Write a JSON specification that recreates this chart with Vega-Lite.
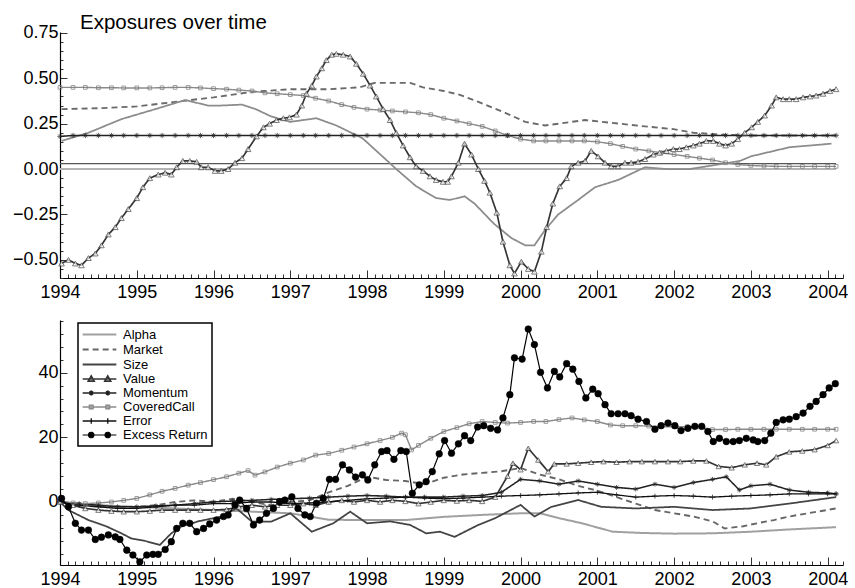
{
  "$schema": "https://vega.github.io/schema/vega-lite/v6.json",
  "background": "white",
  "padding": {"top": 13, "left": 0, "right": 0, "bottom": 0},
  "bounds": "flush",
  "spacing": 42,
  "config": {
    "view": {"stroke": null},
    "font": "Liberation Sans",
    "axis": {"labelFont": "Liberation Sans", "labelFontSize": 18, "labelColor": "#000", "domainColor": "#000", "domainWidth": 1.2, "tickColor": "#333", "tickWidth": 1, "grid": false, "labelOverlap": false, "labelBound": false, "labelFlush": false}
  },
  "resolve": {
    "scale": {"x": "independent", "y": "independent", "color": "independent", "strokeDash": "independent", "strokeWidth": "independent"},
    "legend": {"color": "independent"}
  },
  "datasets": {
    "top": [
      {"s":"Alpha","t":1994.0,"v":0.0},{"s":"Alpha","t":2004.11,"v":0.0},
      {"s":"Error","t":1994.0,"v":0.03},{"s":"Error","t":2004.11,"v":0.03},
      {"s":"Market","t":1994.02,"v":0.33},{"s":"Market","t":1994.5,"v":0.335},{"s":"Market","t":1995.0,"v":0.345},{"s":"Market","t":1995.5,"v":0.37},{"s":"Market","t":1996.0,"v":0.395},{"s":"Market","t":1996.5,"v":0.425},{"s":"Market","t":1997.0,"v":0.44},{"s":"Market","t":1997.5,"v":0.44},{"s":"Market","t":1997.9,"v":0.45},{"s":"Market","t":1998.1,"v":0.475},{"s":"Market","t":1998.56,"v":0.475},{"s":"Market","t":1998.73,"v":0.45},{"s":"Market","t":1999.0,"v":0.43},{"s":"Market","t":1999.2,"v":0.41},{"s":"Market","t":1999.45,"v":0.37},{"s":"Market","t":1999.8,"v":0.31},{"s":"Market","t":2000.06,"v":0.26},{"s":"Market","t":2000.32,"v":0.24},{"s":"Market","t":2000.84,"v":0.27},{"s":"Market","t":2001.18,"v":0.255},{"s":"Market","t":2001.62,"v":0.235},{"s":"Market","t":2001.99,"v":0.22},{"s":"Market","t":2002.25,"v":0.2},{"s":"Market","t":2002.6,"v":0.19},{"s":"Market","t":2003.0,"v":0.185},{"s":"Market","t":2004.11,"v":0.185},
      {"s":"Size","t":1994.02,"v":0.155},{"s":"Size","t":1994.37,"v":0.2},{"s":"Size","t":1994.8,"v":0.275},{"s":"Size","t":1995.24,"v":0.33},{"s":"Size","t":1995.63,"v":0.38},{"s":"Size","t":1995.93,"v":0.35},{"s":"Size","t":1996.1,"v":0.35},{"s":"Size","t":1996.37,"v":0.355},{"s":"Size","t":1996.55,"v":0.33},{"s":"Size","t":1996.75,"v":0.29},{"s":"Size","t":1997.0,"v":0.26},{"s":"Size","t":1997.34,"v":0.28},{"s":"Size","t":1997.6,"v":0.24},{"s":"Size","t":1997.94,"v":0.17},{"s":"Size","t":1998.2,"v":0.07},{"s":"Size","t":1998.38,"v":0.0},{"s":"Size","t":1998.64,"v":-0.095},{"s":"Size","t":1998.9,"v":-0.16},{"s":"Size","t":1999.08,"v":-0.17},{"s":"Size","t":1999.27,"v":-0.15},{"s":"Size","t":1999.4,"v":-0.19},{"s":"Size","t":1999.65,"v":-0.3},{"s":"Size","t":1999.88,"v":-0.38},{"s":"Size","t":2000.06,"v":-0.42},{"s":"Size","t":2000.18,"v":-0.42},{"s":"Size","t":2000.32,"v":-0.335},{"s":"Size","t":2000.49,"v":-0.25},{"s":"Size","t":2000.75,"v":-0.17},{"s":"Size","t":2000.97,"v":-0.1},{"s":"Size","t":2001.27,"v":-0.06},{"s":"Size","t":2001.62,"v":0.01},{"s":"Size","t":2001.9,"v":0.0},{"s":"Size","t":2002.2,"v":0.0},{"s":"Size","t":2002.5,"v":0.02},{"s":"Size","t":2002.86,"v":0.045},{"s":"Size","t":2003.0,"v":0.07},{"s":"Size","t":2003.5,"v":0.12},{"s":"Size","t":2004.05,"v":0.14},
      {"s":"Value","t":1994.02,"v":-0.52},{"s":"Value","t":1994.11,"v":-0.5},{"s":"Value","t":1994.2,"v":-0.52},{"s":"Value","t":1994.28,"v":-0.53},{"s":"Value","t":1994.37,"v":-0.49},{"s":"Value","t":1994.46,"v":-0.465},{"s":"Value","t":1994.54,"v":-0.42},{"s":"Value","t":1994.63,"v":-0.36},{"s":"Value","t":1994.72,"v":-0.32},{"s":"Value","t":1994.8,"v":-0.27},{"s":"Value","t":1994.89,"v":-0.22},{"s":"Value","t":1995.0,"v":-0.16},{"s":"Value","t":1995.08,"v":-0.1},{"s":"Value","t":1995.17,"v":-0.05},{"s":"Value","t":1995.28,"v":-0.03},{"s":"Value","t":1995.37,"v":-0.02},{"s":"Value","t":1995.45,"v":-0.03},{"s":"Value","t":1995.52,"v":0.01},{"s":"Value","t":1995.6,"v":0.045},{"s":"Value","t":1995.69,"v":0.045},{"s":"Value","t":1995.78,"v":0.04},{"s":"Value","t":1995.84,"v":0.01},{"s":"Value","t":1995.93,"v":0.01},{"s":"Value","t":1996.02,"v":-0.01},{"s":"Value","t":1996.1,"v":-0.01},{"s":"Value","t":1996.19,"v":0.0},{"s":"Value","t":1996.28,"v":0.035},{"s":"Value","t":1996.37,"v":0.06},{"s":"Value","t":1996.45,"v":0.11},{"s":"Value","t":1996.56,"v":0.18},{"s":"Value","t":1996.65,"v":0.23},{"s":"Value","t":1996.73,"v":0.25},{"s":"Value","t":1996.82,"v":0.27},{"s":"Value","t":1996.91,"v":0.28},{"s":"Value","t":1996.99,"v":0.285},{"s":"Value","t":1997.08,"v":0.3},{"s":"Value","t":1997.15,"v":0.35},{"s":"Value","t":1997.21,"v":0.415},{"s":"Value","t":1997.28,"v":0.46},{"s":"Value","t":1997.34,"v":0.51},{"s":"Value","t":1997.41,"v":0.555},{"s":"Value","t":1997.47,"v":0.6},{"s":"Value","t":1997.54,"v":0.63},{"s":"Value","t":1997.6,"v":0.635},{"s":"Value","t":1997.69,"v":0.63},{"s":"Value","t":1997.78,"v":0.62},{"s":"Value","t":1997.86,"v":0.58},{"s":"Value","t":1997.95,"v":0.525},{"s":"Value","t":1998.04,"v":0.46},{"s":"Value","t":1998.12,"v":0.4},{"s":"Value","t":1998.21,"v":0.33},{"s":"Value","t":1998.3,"v":0.27},{"s":"Value","t":1998.38,"v":0.2},{"s":"Value","t":1998.47,"v":0.13},{"s":"Value","t":1998.56,"v":0.065},{"s":"Value","t":1998.64,"v":0.015},{"s":"Value","t":1998.73,"v":-0.01},{"s":"Value","t":1998.82,"v":-0.04},{"s":"Value","t":1998.9,"v":-0.06},{"s":"Value","t":1998.99,"v":-0.07},{"s":"Value","t":1999.05,"v":-0.07},{"s":"Value","t":1999.1,"v":-0.04},{"s":"Value","t":1999.19,"v":0.035},{"s":"Value","t":1999.27,"v":0.14},{"s":"Value","t":1999.36,"v":0.08},{"s":"Value","t":1999.45,"v":0.0},{"s":"Value","t":1999.53,"v":-0.065},{"s":"Value","t":1999.6,"v":-0.13},{"s":"Value","t":1999.69,"v":-0.24},{"s":"Value","t":1999.77,"v":-0.4},{"s":"Value","t":1999.86,"v":-0.53},{"s":"Value","t":1999.92,"v":-0.575},{"s":"Value","t":2000.01,"v":-0.51},{"s":"Value","t":2000.1,"v":-0.55},{"s":"Value","t":2000.18,"v":-0.565},{"s":"Value","t":2000.27,"v":-0.455},{"s":"Value","t":2000.34,"v":-0.32},{"s":"Value","t":2000.42,"v":-0.19},{"s":"Value","t":2000.51,"v":-0.095},{"s":"Value","t":2000.6,"v":-0.05},{"s":"Value","t":2000.66,"v":0.015},{"s":"Value","t":2000.75,"v":0.035},{"s":"Value","t":2000.84,"v":0.045},{"s":"Value","t":2000.92,"v":0.1},{"s":"Value","t":2001.01,"v":0.07},{"s":"Value","t":2001.1,"v":0.035},{"s":"Value","t":2001.18,"v":0.015},{"s":"Value","t":2001.27,"v":0.015},{"s":"Value","t":2001.36,"v":0.035},{"s":"Value","t":2001.44,"v":0.035},{"s":"Value","t":2001.53,"v":0.04},{"s":"Value","t":2001.62,"v":0.055},{"s":"Value","t":2001.73,"v":0.08},{"s":"Value","t":2001.81,"v":0.09},{"s":"Value","t":2001.9,"v":0.1},{"s":"Value","t":2001.99,"v":0.11},{"s":"Value","t":2002.07,"v":0.11},{"s":"Value","t":2002.16,"v":0.12},{"s":"Value","t":2002.25,"v":0.13},{"s":"Value","t":2002.33,"v":0.14},{"s":"Value","t":2002.42,"v":0.155},{"s":"Value","t":2002.51,"v":0.155},{"s":"Value","t":2002.59,"v":0.14},{"s":"Value","t":2002.67,"v":0.13},{"s":"Value","t":2002.75,"v":0.14},{"s":"Value","t":2002.83,"v":0.165},{"s":"Value","t":2002.92,"v":0.2},{"s":"Value","t":2003.01,"v":0.23},{"s":"Value","t":2003.09,"v":0.26},{"s":"Value","t":2003.18,"v":0.295},{"s":"Value","t":2003.27,"v":0.35},{"s":"Value","t":2003.33,"v":0.395},{"s":"Value","t":2003.42,"v":0.385},{"s":"Value","t":2003.5,"v":0.385},{"s":"Value","t":2003.59,"v":0.385},{"s":"Value","t":2003.68,"v":0.395},{"s":"Value","t":2003.77,"v":0.4},{"s":"Value","t":2003.85,"v":0.405},{"s":"Value","t":2003.94,"v":0.415},{"s":"Value","t":2004.03,"v":0.43},{"s":"Value","t":2004.11,"v":0.44},
      {"s":"CoveredCall","t":1994.0,"v":0.45},{"s":"CoveredCall","t":1994.17,"v":0.45},{"s":"CoveredCall","t":1994.33,"v":0.45},{"s":"CoveredCall","t":1994.5,"v":0.448},{"s":"CoveredCall","t":1994.67,"v":0.448},{"s":"CoveredCall","t":1994.83,"v":0.447},{"s":"CoveredCall","t":1995.0,"v":0.447},{"s":"CoveredCall","t":1995.17,"v":0.447},{"s":"CoveredCall","t":1995.33,"v":0.448},{"s":"CoveredCall","t":1995.5,"v":0.45},{"s":"CoveredCall","t":1995.67,"v":0.45},{"s":"CoveredCall","t":1995.83,"v":0.447},{"s":"CoveredCall","t":1996.0,"v":0.443},{"s":"CoveredCall","t":1996.17,"v":0.44},{"s":"CoveredCall","t":1996.33,"v":0.435},{"s":"CoveredCall","t":1996.5,"v":0.43},{"s":"CoveredCall","t":1996.67,"v":0.42},{"s":"CoveredCall","t":1996.83,"v":0.415},{"s":"CoveredCall","t":1997.0,"v":0.41},{"s":"CoveredCall","t":1997.17,"v":0.405},{"s":"CoveredCall","t":1997.33,"v":0.39},{"s":"CoveredCall","t":1997.5,"v":0.375},{"s":"CoveredCall","t":1997.67,"v":0.355},{"s":"CoveredCall","t":1997.83,"v":0.34},{"s":"CoveredCall","t":1998.0,"v":0.33},{"s":"CoveredCall","t":1998.17,"v":0.325},{"s":"CoveredCall","t":1998.33,"v":0.32},{"s":"CoveredCall","t":1998.5,"v":0.315},{"s":"CoveredCall","t":1998.67,"v":0.31},{"s":"CoveredCall","t":1998.83,"v":0.3},{"s":"CoveredCall","t":1999.0,"v":0.28},{"s":"CoveredCall","t":1999.17,"v":0.265},{"s":"CoveredCall","t":1999.33,"v":0.25},{"s":"CoveredCall","t":1999.5,"v":0.235},{"s":"CoveredCall","t":1999.67,"v":0.21},{"s":"CoveredCall","t":1999.83,"v":0.185},{"s":"CoveredCall","t":2000.0,"v":0.165},{"s":"CoveredCall","t":2000.17,"v":0.155},{"s":"CoveredCall","t":2000.33,"v":0.155},{"s":"CoveredCall","t":2000.5,"v":0.155},{"s":"CoveredCall","t":2000.67,"v":0.155},{"s":"CoveredCall","t":2000.83,"v":0.155},{"s":"CoveredCall","t":2001.0,"v":0.15},{"s":"CoveredCall","t":2001.17,"v":0.14},{"s":"CoveredCall","t":2001.33,"v":0.125},{"s":"CoveredCall","t":2001.5,"v":0.11},{"s":"CoveredCall","t":2001.67,"v":0.1},{"s":"CoveredCall","t":2001.83,"v":0.09},{"s":"CoveredCall","t":2002.0,"v":0.08},{"s":"CoveredCall","t":2002.17,"v":0.07},{"s":"CoveredCall","t":2002.33,"v":0.06},{"s":"CoveredCall","t":2002.5,"v":0.05},{"s":"CoveredCall","t":2002.67,"v":0.035},{"s":"CoveredCall","t":2002.83,"v":0.025},{"s":"CoveredCall","t":2003.0,"v":0.02},{"s":"CoveredCall","t":2003.17,"v":0.017},{"s":"CoveredCall","t":2003.33,"v":0.015},{"s":"CoveredCall","t":2003.5,"v":0.015},{"s":"CoveredCall","t":2003.67,"v":0.015},{"s":"CoveredCall","t":2003.83,"v":0.015},{"s":"CoveredCall","t":2004.0,"v":0.015},{"s":"CoveredCall","t":2004.11,"v":0.015},
      {"s":"Momentum","t":1994.0,"v":0.18},{"s":"Momentum","t":1994.17,"v":0.185},{"s":"Momentum","t":1994.33,"v":0.185},{"s":"Momentum","t":1994.5,"v":0.185},{"s":"Momentum","t":1994.67,"v":0.185},{"s":"Momentum","t":1994.83,"v":0.185},{"s":"Momentum","t":1995.0,"v":0.185},{"s":"Momentum","t":1995.17,"v":0.185},{"s":"Momentum","t":1995.33,"v":0.185},{"s":"Momentum","t":1995.5,"v":0.185},{"s":"Momentum","t":1995.67,"v":0.185},{"s":"Momentum","t":1995.83,"v":0.185},{"s":"Momentum","t":1996.0,"v":0.185},{"s":"Momentum","t":1996.17,"v":0.185},{"s":"Momentum","t":1996.33,"v":0.185},{"s":"Momentum","t":1996.5,"v":0.185},{"s":"Momentum","t":1996.67,"v":0.185},{"s":"Momentum","t":1996.83,"v":0.185},{"s":"Momentum","t":1997.0,"v":0.185},{"s":"Momentum","t":1997.17,"v":0.185},{"s":"Momentum","t":1997.33,"v":0.185},{"s":"Momentum","t":1997.5,"v":0.185},{"s":"Momentum","t":1997.67,"v":0.185},{"s":"Momentum","t":1997.83,"v":0.185},{"s":"Momentum","t":1998.0,"v":0.185},{"s":"Momentum","t":1998.17,"v":0.185},{"s":"Momentum","t":1998.33,"v":0.185},{"s":"Momentum","t":1998.5,"v":0.185},{"s":"Momentum","t":1998.67,"v":0.185},{"s":"Momentum","t":1998.83,"v":0.185},{"s":"Momentum","t":1999.0,"v":0.185},{"s":"Momentum","t":1999.17,"v":0.185},{"s":"Momentum","t":1999.33,"v":0.185},{"s":"Momentum","t":1999.5,"v":0.185},{"s":"Momentum","t":1999.67,"v":0.185},{"s":"Momentum","t":1999.83,"v":0.185},{"s":"Momentum","t":2000.0,"v":0.185},{"s":"Momentum","t":2000.17,"v":0.185},{"s":"Momentum","t":2000.33,"v":0.185},{"s":"Momentum","t":2000.5,"v":0.185},{"s":"Momentum","t":2000.67,"v":0.185},{"s":"Momentum","t":2000.83,"v":0.185},{"s":"Momentum","t":2001.0,"v":0.185},{"s":"Momentum","t":2001.17,"v":0.185},{"s":"Momentum","t":2001.33,"v":0.185},{"s":"Momentum","t":2001.5,"v":0.185},{"s":"Momentum","t":2001.67,"v":0.185},{"s":"Momentum","t":2001.83,"v":0.185},{"s":"Momentum","t":2002.0,"v":0.185},{"s":"Momentum","t":2002.17,"v":0.185},{"s":"Momentum","t":2002.33,"v":0.185},{"s":"Momentum","t":2002.5,"v":0.185},{"s":"Momentum","t":2002.67,"v":0.185},{"s":"Momentum","t":2002.83,"v":0.185},{"s":"Momentum","t":2003.0,"v":0.185},{"s":"Momentum","t":2003.17,"v":0.185},{"s":"Momentum","t":2003.33,"v":0.185},{"s":"Momentum","t":2003.5,"v":0.185},{"s":"Momentum","t":2003.67,"v":0.185},{"s":"Momentum","t":2003.83,"v":0.185},{"s":"Momentum","t":2004.0,"v":0.185},{"s":"Momentum","t":2004.11,"v":0.185}
    ],
    "bottom": [
      {"s":"Alpha","t":1994.0,"v":0},{"s":"Alpha","t":1994.5,"v":-1},{"s":"Alpha","t":1995.0,"v":-1.5},{"s":"Alpha","t":1995.5,"v":-2},{"s":"Alpha","t":1996.0,"v":-2.5},{"s":"Alpha","t":1996.5,"v":-3},{"s":"Alpha","t":1997.0,"v":-3.5},{"s":"Alpha","t":1997.5,"v":-5.5},{"s":"Alpha","t":1998.0,"v":-5.6},{"s":"Alpha","t":1998.5,"v":-5.6},{"s":"Alpha","t":1999.0,"v":-4.6},{"s":"Alpha","t":1999.5,"v":-4},{"s":"Alpha","t":2000.0,"v":-3.5},{"s":"Alpha","t":2000.25,"v":-3.5},{"s":"Alpha","t":2000.5,"v":-5},{"s":"Alpha","t":2000.8,"v":-6.6},{"s":"Alpha","t":2001.2,"v":-9.2},{"s":"Alpha","t":2001.6,"v":-9.6},{"s":"Alpha","t":2002.0,"v":-9.8},{"s":"Alpha","t":2002.5,"v":-9.7},{"s":"Alpha","t":2003.0,"v":-9.2},{"s":"Alpha","t":2003.5,"v":-8.5},{"s":"Alpha","t":2004.11,"v":-7.8},
      {"s":"Market","t":1994.0,"v":0},{"s":"Market","t":1994.25,"v":-1},{"s":"Market","t":1994.5,"v":-1.5},{"s":"Market","t":1994.75,"v":-1.5},{"s":"Market","t":1995.0,"v":-1.5},{"s":"Market","t":1995.25,"v":-1},{"s":"Market","t":1995.5,"v":0},{"s":"Market","t":1995.75,"v":0.5},{"s":"Market","t":1996.0,"v":0},{"s":"Market","t":1996.25,"v":1},{"s":"Market","t":1996.5,"v":0},{"s":"Market","t":1996.75,"v":-1},{"s":"Market","t":1997.0,"v":0},{"s":"Market","t":1997.25,"v":0.5},{"s":"Market","t":1997.5,"v":3},{"s":"Market","t":1997.75,"v":5},{"s":"Market","t":1998.0,"v":7.8},{"s":"Market","t":1998.25,"v":6.8},{"s":"Market","t":1998.5,"v":6.5},{"s":"Market","t":1998.75,"v":5.5},{"s":"Market","t":1999.0,"v":7.5},{"s":"Market","t":1999.25,"v":8.5},{"s":"Market","t":1999.5,"v":9},{"s":"Market","t":1999.75,"v":9.5},{"s":"Market","t":2000.0,"v":10.5},{"s":"Market","t":2000.25,"v":8.5},{"s":"Market","t":2000.5,"v":7},{"s":"Market","t":2000.75,"v":5},{"s":"Market","t":2001.0,"v":3.5},{"s":"Market","t":2001.25,"v":1.5},{"s":"Market","t":2001.5,"v":-0.5},{"s":"Market","t":2001.75,"v":-2.5},{"s":"Market","t":2002.0,"v":-3.5},{"s":"Market","t":2002.25,"v":-4.5},{"s":"Market","t":2002.5,"v":-6},{"s":"Market","t":2002.66,"v":-8.2},{"s":"Market","t":2002.9,"v":-7.5},{"s":"Market","t":2003.1,"v":-6.5},{"s":"Market","t":2003.3,"v":-5.6},{"s":"Market","t":2003.5,"v":-4.5},{"s":"Market","t":2003.74,"v":-3.5},{"s":"Market","t":2004.11,"v":-2},
      {"s":"Size","t":1994.0,"v":0},{"s":"Size","t":1994.11,"v":-2.5},{"s":"Size","t":1994.37,"v":-5.6},{"s":"Size","t":1994.6,"v":-7.5},{"s":"Size","t":1994.8,"v":-9.7},{"s":"Size","t":1994.93,"v":-11.3},{"s":"Size","t":1995.1,"v":-12},{"s":"Size","t":1995.3,"v":-13.3},{"s":"Size","t":1995.45,"v":-9.7},{"s":"Size","t":1995.58,"v":-7.6},{"s":"Size","t":1995.8,"v":-6},{"s":"Size","t":1996.1,"v":-4.5},{"s":"Size","t":1996.3,"v":-2},{"s":"Size","t":1996.5,"v":-6.1},{"s":"Size","t":1996.75,"v":-6.1},{"s":"Size","t":1997.0,"v":-3.5},{"s":"Size","t":1997.28,"v":-9.2},{"s":"Size","t":1997.56,"v":-6.6},{"s":"Size","t":1997.78,"v":-3},{"s":"Size","t":1998.0,"v":-6.6},{"s":"Size","t":1998.3,"v":-6},{"s":"Size","t":1998.56,"v":-7.1},{"s":"Size","t":1998.77,"v":-9.7},{"s":"Size","t":1998.95,"v":-9.2},{"s":"Size","t":1999.14,"v":-10.8},{"s":"Size","t":1999.45,"v":-7.1},{"s":"Size","t":1999.67,"v":-5},{"s":"Size","t":2000.0,"v":-0.9},{"s":"Size","t":2000.18,"v":-4.5},{"s":"Size","t":2000.4,"v":-1.5},{"s":"Size","t":2000.75,"v":0.6},{"s":"Size","t":2001.05,"v":-1.5},{"s":"Size","t":2001.5,"v":-2},{"s":"Size","t":2002.0,"v":-1.5},{"s":"Size","t":2002.5,"v":-2.5},{"s":"Size","t":2003.0,"v":-2},{"s":"Size","t":2003.5,"v":-0.5},{"s":"Size","t":2004.11,"v":1.5},
      {"s":"Value","t":1994.0,"v":0},{"s":"Value","t":1994.17,"v":-1},{"s":"Value","t":1994.33,"v":-2},{"s":"Value","t":1994.5,"v":-2.5},{"s":"Value","t":1994.67,"v":-2.8},{"s":"Value","t":1994.83,"v":-3},{"s":"Value","t":1995.0,"v":-3},{"s":"Value","t":1995.17,"v":-2.8},{"s":"Value","t":1995.33,"v":-2.5},{"s":"Value","t":1995.5,"v":-2.5},{"s":"Value","t":1995.67,"v":-2.5},{"s":"Value","t":1995.83,"v":-2.5},{"s":"Value","t":1996.0,"v":-2.5},{"s":"Value","t":1996.17,"v":-2.3},{"s":"Value","t":1996.33,"v":-1.5},{"s":"Value","t":1996.5,"v":-1},{"s":"Value","t":1996.67,"v":-1.5},{"s":"Value","t":1996.83,"v":-1},{"s":"Value","t":1997.0,"v":-1},{"s":"Value","t":1997.17,"v":-0.5},{"s":"Value","t":1997.33,"v":-1},{"s":"Value","t":1997.5,"v":0},{"s":"Value","t":1997.67,"v":0.5},{"s":"Value","t":1997.83,"v":0},{"s":"Value","t":1998.0,"v":0.5},{"s":"Value","t":1998.17,"v":0},{"s":"Value","t":1998.33,"v":0.5},{"s":"Value","t":1998.5,"v":0.2},{"s":"Value","t":1998.67,"v":-0.5},{"s":"Value","t":1998.83,"v":0},{"s":"Value","t":1999.0,"v":0.5},{"s":"Value","t":1999.17,"v":0.3},{"s":"Value","t":1999.33,"v":0.5},{"s":"Value","t":1999.5,"v":0.2},{"s":"Value","t":1999.67,"v":1.5},{"s":"Value","t":1999.83,"v":8},{"s":"Value","t":1999.9,"v":12},{"s":"Value","t":2000.0,"v":10},{"s":"Value","t":2000.1,"v":16.6},{"s":"Value","t":2000.23,"v":13},{"s":"Value","t":2000.36,"v":9.4},{"s":"Value","t":2000.44,"v":11.8},{"s":"Value","t":2000.6,"v":11.8},{"s":"Value","t":2000.75,"v":12},{"s":"Value","t":2000.92,"v":12.3},{"s":"Value","t":2001.08,"v":12.5},{"s":"Value","t":2001.25,"v":12.3},{"s":"Value","t":2001.42,"v":12.5},{"s":"Value","t":2001.58,"v":12.5},{"s":"Value","t":2001.75,"v":12.5},{"s":"Value","t":2001.92,"v":12.5},{"s":"Value","t":2002.08,"v":12.5},{"s":"Value","t":2002.25,"v":12.7},{"s":"Value","t":2002.42,"v":12.7},{"s":"Value","t":2002.58,"v":11},{"s":"Value","t":2002.75,"v":10.6},{"s":"Value","t":2002.92,"v":11.5},{"s":"Value","t":2003.08,"v":12},{"s":"Value","t":2003.2,"v":11.5},{"s":"Value","t":2003.33,"v":14},{"s":"Value","t":2003.5,"v":15.5},{"s":"Value","t":2003.67,"v":15.8},{"s":"Value","t":2003.83,"v":16.2},{"s":"Value","t":2004.0,"v":17.5},{"s":"Value","t":2004.11,"v":19},
      {"s":"Momentum","t":1994.0,"v":0},{"s":"Momentum","t":1994.25,"v":-0.5},{"s":"Momentum","t":1994.5,"v":-1},{"s":"Momentum","t":1994.75,"v":-1.5},{"s":"Momentum","t":1995.0,"v":-1.5},{"s":"Momentum","t":1995.25,"v":-1.2},{"s":"Momentum","t":1995.5,"v":-1},{"s":"Momentum","t":1995.75,"v":-0.5},{"s":"Momentum","t":1996.0,"v":0},{"s":"Momentum","t":1996.25,"v":0.3},{"s":"Momentum","t":1996.5,"v":0.5},{"s":"Momentum","t":1996.75,"v":0.8},{"s":"Momentum","t":1997.0,"v":1},{"s":"Momentum","t":1997.25,"v":1.2},{"s":"Momentum","t":1997.5,"v":1.5},{"s":"Momentum","t":1997.75,"v":1.8},{"s":"Momentum","t":1998.0,"v":2},{"s":"Momentum","t":1998.25,"v":1.8},{"s":"Momentum","t":1998.5,"v":1.5},{"s":"Momentum","t":1998.75,"v":1.5},{"s":"Momentum","t":1999.0,"v":1.5},{"s":"Momentum","t":1999.25,"v":1.8},{"s":"Momentum","t":1999.5,"v":2},{"s":"Momentum","t":1999.75,"v":3},{"s":"Momentum","t":2000.0,"v":7},{"s":"Momentum","t":2000.25,"v":6.5},{"s":"Momentum","t":2000.5,"v":5.5},{"s":"Momentum","t":2000.75,"v":6.5},{"s":"Momentum","t":2001.0,"v":5.5},{"s":"Momentum","t":2001.25,"v":4.5},{"s":"Momentum","t":2001.5,"v":4},{"s":"Momentum","t":2001.75,"v":5.5},{"s":"Momentum","t":2002.0,"v":4.5},{"s":"Momentum","t":2002.25,"v":6},{"s":"Momentum","t":2002.5,"v":7},{"s":"Momentum","t":2002.68,"v":7.8},{"s":"Momentum","t":2002.85,"v":3.7},{"s":"Momentum","t":2003.0,"v":5},{"s":"Momentum","t":2003.25,"v":5.5},{"s":"Momentum","t":2003.5,"v":3.7},{"s":"Momentum","t":2003.75,"v":3},{"s":"Momentum","t":2004.0,"v":2.8},{"s":"Momentum","t":2004.11,"v":2.5},
      {"s":"CoveredCall","t":1994.0,"v":0},{"s":"CoveredCall","t":1994.17,"v":-0.3},{"s":"CoveredCall","t":1994.33,"v":-0.5},{"s":"CoveredCall","t":1994.5,"v":-0.3},{"s":"CoveredCall","t":1994.67,"v":0},{"s":"CoveredCall","t":1994.83,"v":0.5},{"s":"CoveredCall","t":1995.0,"v":1.1},{"s":"CoveredCall","t":1995.17,"v":2.2},{"s":"CoveredCall","t":1995.33,"v":3.3},{"s":"CoveredCall","t":1995.5,"v":4.2},{"s":"CoveredCall","t":1995.67,"v":5.2},{"s":"CoveredCall","t":1995.83,"v":6},{"s":"CoveredCall","t":1996.0,"v":6.9},{"s":"CoveredCall","t":1996.17,"v":7.8},{"s":"CoveredCall","t":1996.33,"v":8.9},{"s":"CoveredCall","t":1996.45,"v":9.7},{"s":"CoveredCall","t":1996.54,"v":8.3},{"s":"CoveredCall","t":1996.67,"v":9.3},{"s":"CoveredCall","t":1996.83,"v":10.8},{"s":"CoveredCall","t":1997.0,"v":12},{"s":"CoveredCall","t":1997.17,"v":13},{"s":"CoveredCall","t":1997.33,"v":14.5},{"s":"CoveredCall","t":1997.5,"v":15},{"s":"CoveredCall","t":1997.67,"v":16},{"s":"CoveredCall","t":1997.83,"v":17},{"s":"CoveredCall","t":1998.0,"v":18},{"s":"CoveredCall","t":1998.17,"v":19},{"s":"CoveredCall","t":1998.33,"v":20},{"s":"CoveredCall","t":1998.45,"v":21.3},{"s":"CoveredCall","t":1998.5,"v":20.8},{"s":"CoveredCall","t":1998.58,"v":16.1},{"s":"CoveredCall","t":1998.67,"v":17.5},{"s":"CoveredCall","t":1998.83,"v":19.7},{"s":"CoveredCall","t":1999.0,"v":21.8},{"s":"CoveredCall","t":1999.17,"v":23},{"s":"CoveredCall","t":1999.33,"v":24.2},{"s":"CoveredCall","t":1999.5,"v":24.9},{"s":"CoveredCall","t":1999.67,"v":24.6},{"s":"CoveredCall","t":1999.83,"v":24.4},{"s":"CoveredCall","t":2000.0,"v":24.6},{"s":"CoveredCall","t":2000.17,"v":24.9},{"s":"CoveredCall","t":2000.33,"v":24.9},{"s":"CoveredCall","t":2000.5,"v":25.5},{"s":"CoveredCall","t":2000.67,"v":26},{"s":"CoveredCall","t":2000.83,"v":25.4},{"s":"CoveredCall","t":2001.0,"v":24.9},{"s":"CoveredCall","t":2001.17,"v":23.8},{"s":"CoveredCall","t":2001.33,"v":23.6},{"s":"CoveredCall","t":2001.5,"v":23.6},{"s":"CoveredCall","t":2001.67,"v":23.5},{"s":"CoveredCall","t":2001.83,"v":23.3},{"s":"CoveredCall","t":2002.0,"v":23.3},{"s":"CoveredCall","t":2002.17,"v":23.3},{"s":"CoveredCall","t":2002.33,"v":23.2},{"s":"CoveredCall","t":2002.5,"v":22.4},{"s":"CoveredCall","t":2002.67,"v":22.4},{"s":"CoveredCall","t":2002.83,"v":22.5},{"s":"CoveredCall","t":2003.0,"v":22.5},{"s":"CoveredCall","t":2003.17,"v":22.5},{"s":"CoveredCall","t":2003.33,"v":22.5},{"s":"CoveredCall","t":2003.5,"v":22.5},{"s":"CoveredCall","t":2003.67,"v":22.5},{"s":"CoveredCall","t":2003.83,"v":22.5},{"s":"CoveredCall","t":2004.0,"v":22.5},{"s":"CoveredCall","t":2004.11,"v":22.5},
      {"s":"Error","t":1994.0,"v":0},{"s":"Error","t":1994.25,"v":-1},{"s":"Error","t":1994.5,"v":-1.5},{"s":"Error","t":1994.75,"v":-2},{"s":"Error","t":1995.0,"v":-2},{"s":"Error","t":1995.25,"v":-1.5},{"s":"Error","t":1995.5,"v":-1},{"s":"Error","t":1995.75,"v":-1},{"s":"Error","t":1996.0,"v":-0.5},{"s":"Error","t":1996.25,"v":-0.5},{"s":"Error","t":1996.5,"v":0},{"s":"Error","t":1996.75,"v":0},{"s":"Error","t":1997.0,"v":-0.5},{"s":"Error","t":1997.25,"v":-0.3},{"s":"Error","t":1997.5,"v":0},{"s":"Error","t":1997.75,"v":0.5},{"s":"Error","t":1998.0,"v":1},{"s":"Error","t":1998.25,"v":1.2},{"s":"Error","t":1998.5,"v":1.5},{"s":"Error","t":1998.75,"v":1.2},{"s":"Error","t":1999.0,"v":1},{"s":"Error","t":1999.25,"v":1.2},{"s":"Error","t":1999.5,"v":1.5},{"s":"Error","t":1999.75,"v":1.8},{"s":"Error","t":2000.0,"v":2},{"s":"Error","t":2000.25,"v":2.2},{"s":"Error","t":2000.5,"v":2.5},{"s":"Error","t":2000.75,"v":2.8},{"s":"Error","t":2001.0,"v":3},{"s":"Error","t":2001.25,"v":2.2},{"s":"Error","t":2001.5,"v":1.5},{"s":"Error","t":2001.75,"v":1.8},{"s":"Error","t":2002.0,"v":2},{"s":"Error","t":2002.25,"v":1.8},{"s":"Error","t":2002.5,"v":1.5},{"s":"Error","t":2002.75,"v":1.8},{"s":"Error","t":2003.0,"v":2},{"s":"Error","t":2003.25,"v":2.2},{"s":"Error","t":2003.5,"v":2.5},{"s":"Error","t":2003.75,"v":2.5},{"s":"Error","t":2004.0,"v":2.5},{"s":"Error","t":2004.11,"v":2.5},
      {"s":"Excess Return","t":1994.02,"v":1.1},{"s":"Excess Return","t":1994.11,"v":-1.5},{"s":"Excess Return","t":1994.2,"v":-6.6},{"s":"Excess Return","t":1994.28,"v":-8.7},{"s":"Excess Return","t":1994.37,"v":-8.7},{"s":"Excess Return","t":1994.46,"v":-11.6},{"s":"Excess Return","t":1994.54,"v":-10.9},{"s":"Excess Return","t":1994.63,"v":-10.2},{"s":"Excess Return","t":1994.72,"v":-10.8},{"s":"Excess Return","t":1994.78,"v":-11.6},{"s":"Excess Return","t":1994.87,"v":-14.9},{"s":"Excess Return","t":1994.95,"v":-16.4},{"s":"Excess Return","t":1995.04,"v":-18.5},{"s":"Excess Return","t":1995.13,"v":-16.4},{"s":"Excess Return","t":1995.21,"v":-16.2},{"s":"Excess Return","t":1995.28,"v":-16.2},{"s":"Excess Return","t":1995.37,"v":-14.7},{"s":"Excess Return","t":1995.45,"v":-12.3},{"s":"Excess Return","t":1995.52,"v":-8.2},{"s":"Excess Return","t":1995.6,"v":-6.6},{"s":"Excess Return","t":1995.69,"v":-6.6},{"s":"Excess Return","t":1995.78,"v":-9.2},{"s":"Excess Return","t":1995.87,"v":-8.2},{"s":"Excess Return","t":1995.95,"v":-6.8},{"s":"Excess Return","t":1996.04,"v":-5.6},{"s":"Excess Return","t":1996.13,"v":-4.5},{"s":"Excess Return","t":1996.19,"v":-4},{"s":"Excess Return","t":1996.28,"v":-0.9},{"s":"Excess Return","t":1996.34,"v":0.6},{"s":"Excess Return","t":1996.43,"v":-2},{"s":"Excess Return","t":1996.52,"v":-7.1},{"s":"Excess Return","t":1996.6,"v":-5.6},{"s":"Excess Return","t":1996.69,"v":-3.5},{"s":"Excess Return","t":1996.78,"v":-2},{"s":"Excess Return","t":1996.86,"v":0.1},{"s":"Excess Return","t":1996.93,"v":0.6},{"s":"Excess Return","t":1997.02,"v":1.6},{"s":"Excess Return","t":1997.1,"v":-2},{"s":"Excess Return","t":1997.19,"v":-4},{"s":"Excess Return","t":1997.26,"v":-4.5},{"s":"Excess Return","t":1997.34,"v":-0.4},{"s":"Excess Return","t":1997.43,"v":1.1},{"s":"Excess Return","t":1997.51,"v":7},{"s":"Excess Return","t":1997.59,"v":7},{"s":"Excess Return","t":1997.68,"v":11.5},{"s":"Excess Return","t":1997.77,"v":9.9},{"s":"Excess Return","t":1997.85,"v":7.7},{"s":"Excess Return","t":1997.94,"v":8.4},{"s":"Excess Return","t":1998.01,"v":6.8},{"s":"Excess Return","t":1998.1,"v":11.5},{"s":"Excess Return","t":1998.19,"v":15.6},{"s":"Excess Return","t":1998.26,"v":15.9},{"s":"Excess Return","t":1998.35,"v":13.2},{"s":"Excess Return","t":1998.44,"v":15.9},{"s":"Excess Return","t":1998.51,"v":15.6},{"s":"Excess Return","t":1998.59,"v":2.7},{"s":"Excess Return","t":1998.68,"v":5.3},{"s":"Excess Return","t":1998.77,"v":6.3},{"s":"Excess Return","t":1998.85,"v":9.4},{"s":"Excess Return","t":1998.94,"v":14.9},{"s":"Excess Return","t":1999.01,"v":19},{"s":"Excess Return","t":1999.1,"v":15.1},{"s":"Excess Return","t":1999.19,"v":18},{"s":"Excess Return","t":1999.27,"v":20.5},{"s":"Excess Return","t":1999.35,"v":19},{"s":"Excess Return","t":1999.44,"v":23.2},{"s":"Excess Return","t":1999.52,"v":23.6},{"s":"Excess Return","t":1999.61,"v":22.8},{"s":"Excess Return","t":1999.7,"v":22.3},{"s":"Excess Return","t":1999.77,"v":26},{"s":"Excess Return","t":1999.86,"v":33.2},{"s":"Excess Return","t":1999.92,"v":44.6},{"s":"Excess Return","t":2000.02,"v":44.2},{"s":"Excess Return","t":2000.1,"v":53.5},{"s":"Excess Return","t":2000.18,"v":48.7},{"s":"Excess Return","t":2000.26,"v":40.1},{"s":"Excess Return","t":2000.35,"v":35.3},{"s":"Excess Return","t":2000.44,"v":40.4},{"s":"Excess Return","t":2000.51,"v":38.7},{"s":"Excess Return","t":2000.6,"v":42.8},{"s":"Excess Return","t":2000.68,"v":41.1},{"s":"Excess Return","t":2000.76,"v":37.3},{"s":"Excess Return","t":2000.85,"v":32.2},{"s":"Excess Return","t":2000.94,"v":34.9},{"s":"Excess Return","t":2001.01,"v":33.5},{"s":"Excess Return","t":2001.1,"v":30.1},{"s":"Excess Return","t":2001.18,"v":27.3},{"s":"Excess Return","t":2001.27,"v":27.3},{"s":"Excess Return","t":2001.36,"v":27.3},{"s":"Excess Return","t":2001.44,"v":26.7},{"s":"Excess Return","t":2001.53,"v":25.6},{"s":"Excess Return","t":2001.64,"v":24.9},{"s":"Excess Return","t":2001.75,"v":22.5},{"s":"Excess Return","t":2001.83,"v":23.6},{"s":"Excess Return","t":2001.92,"v":24.4},{"s":"Excess Return","t":2002.01,"v":23.6},{"s":"Excess Return","t":2002.09,"v":22.1},{"s":"Excess Return","t":2002.18,"v":22.8},{"s":"Excess Return","t":2002.27,"v":23.4},{"s":"Excess Return","t":2002.36,"v":23.4},{"s":"Excess Return","t":2002.44,"v":21.8},{"s":"Excess Return","t":2002.51,"v":18.7},{"s":"Excess Return","t":2002.59,"v":19.7},{"s":"Excess Return","t":2002.68,"v":18.7},{"s":"Excess Return","t":2002.77,"v":18.7},{"s":"Excess Return","t":2002.85,"v":19},{"s":"Excess Return","t":2002.94,"v":19.7},{"s":"Excess Return","t":2003.03,"v":19.2},{"s":"Excess Return","t":2003.09,"v":18.7},{"s":"Excess Return","t":2003.18,"v":19},{"s":"Excess Return","t":2003.26,"v":21.3},{"s":"Excess Return","t":2003.33,"v":24.6},{"s":"Excess Return","t":2003.42,"v":25.4},{"s":"Excess Return","t":2003.5,"v":25.6},{"s":"Excess Return","t":2003.59,"v":26.4},{"s":"Excess Return","t":2003.68,"v":27.5},{"s":"Excess Return","t":2003.77,"v":29.6},{"s":"Excess Return","t":2003.85,"v":31.1},{"s":"Excess Return","t":2003.94,"v":33.2},{"s":"Excess Return","t":2004.02,"v":35.3},{"s":"Excess Return","t":2004.1,"v":36.6}
    ]
  },
  "vconcat": [
    {
      "width": 783,
      "height": 246,
      "data": {"name": "top"},
      "title": {"text": "Exposures over time", "anchor": "start", "frame": "group", "dx": 20, "offset": -10, "fontSize": 20.5, "fontWeight": "normal", "font": "Liberation Sans", "color": "#000"},
      "encoding": {
        "x": {"field": "t", "type": "quantitative", "scale": {"domain": [1994, 2004.2], "nice": false, "zero": false},
          "axis": {"title": null, "tickCount": 100, "labelPadding": 13, "labelExpr": "abs(datum.value - round(datum.value)) < 0.01 ? format(datum.value, 'd') : ''", "tickSize": {"condition": {"test": "abs(datum.value - round(datum.value)) < 0.01", "value": -8}, "value": -4}}},
        "y": {"field": "v", "type": "quantitative", "scale": {"domain": [-0.6, 0.755], "nice": false, "zero": false},
          "axis": {"title": null, "minExtent": 60, "maxExtent": 60, "labelPadding": 9, "values": [-0.6,-0.55,-0.5,-0.45,-0.4,-0.35,-0.3,-0.25,-0.2,-0.15,-0.1,-0.05,0,0.05,0.1,0.15,0.2,0.25,0.3,0.35,0.4,0.45,0.5,0.55,0.6,0.65,0.7,0.75],
            "labelExpr": "abs(datum.value*4 - round(datum.value*4)) < 0.001 ? format(datum.value, '.2f') : ''",
            "tickSize": {"condition": {"test": "abs(datum.value*4 - round(datum.value*4)) < 0.001", "value": -7}, "value": -3}}}
      },
      "layer": [
        {
          "mark": {"type": "line", "interpolate": "linear"},
          "encoding": {
            "detail": {"field": "s", "type": "nominal"},
            "color": {"field": "s", "type": "nominal", "legend": null, "scale": {"domain": ["Alpha","Market","Size","Value","Momentum","CoveredCall","Error"], "range": ["#b4b4b4","#6a6a6a","#8c8c8c","#333333","#222222","#8a8a8a","#555555"]}},
            "strokeDash": {"field": "s", "type": "nominal", "legend": null, "scale": {"domain": ["Alpha","Market","Size","Value","Momentum","CoveredCall","Error"], "range": [[1,0],[6,4],[1,0],[1,0],[1,0],[1,0],[1,0]]}},
            "strokeWidth": {"field": "s", "type": "nominal", "legend": null, "scale": {"domain": ["Alpha","Market","Size","Value","Momentum","CoveredCall","Error"], "range": [2,1.3,1.4,1.2,1.2,2,1]}}
          }
        },
        {
          "transform": [{"filter": "datum.s === 'CoveredCall'"}],
          "mark": {"type": "point", "shape": "square", "filled": false, "stroke": "#777", "strokeWidth": 1, "size": 14}
        },
        {
          "transform": [{"filter": "datum.s === 'Momentum'"}],
          "mark": {"type": "point", "shape": "M-1,0L1,0M0,-1L0,1M-0.7,-0.7L0.7,0.7M-0.7,0.7L0.7,-0.7", "filled": false, "stroke": "#222", "strokeWidth": 1, "size": 28}
        },
        {
          "transform": [{"filter": "datum.s === 'Value'"}],
          "mark": {"type": "point", "shape": "triangle-up", "filled": true, "fill": "#fff", "stroke": "#444", "strokeWidth": 1, "size": 32}
        }
      ]
    },
    {
      "width": 783,
      "height": 245,
      "data": {"name": "bottom"},
      "encoding": {
        "x": {"field": "t", "type": "quantitative", "scale": {"domain": [1994, 2004.2], "nice": false, "zero": false},
          "axis": {"title": null, "tickCount": 100, "labelPadding": 13, "labelExpr": "abs(datum.value - round(datum.value)) < 0.01 ? format(datum.value, 'd') : ''", "tickSize": {"condition": {"test": "abs(datum.value - round(datum.value)) < 0.01", "value": -8}, "value": -4}}},
        "y": {"field": "v", "type": "quantitative", "scale": {"domain": [-19.5, 56.3], "nice": false, "zero": false},
          "axis": {"title": null, "minExtent": 60, "maxExtent": 60, "labelPadding": 9, "values": [-16,-12,-8,-4,0,4,8,12,16,20,24,28,32,36,40,44,48,52,56],
            "labelExpr": "datum.value % 20 === 0 ? format(datum.value, 'd') : ''",
            "tickSize": {"condition": {"test": "datum.value % 20 === 0", "value": -7}, "value": -3}}}
      },
      "layer": [
        {
          "mark": {"type": "line", "interpolate": "linear"},
          "encoding": {
            "detail": {"field": "s", "type": "nominal"},
            "color": {"field": "s", "type": "nominal",
              "scale": {"domain": ["Alpha","Market","Size","Value","Momentum","CoveredCall","Error","Excess Return"], "range": ["#a0a0a0","#666666","#444444","#333333","#222222","#8a8a8a","#111111","#000000"]},
              "legend": {
                "title": null, "orient": "none", "legendX": 18, "legendY": 3, "direction": "vertical", "columns": 1,
                "strokeColor": "#000", "fillColor": "#fff", "padding": 4,
                "labelFont": "Liberation Sans", "labelFontSize": 13, "labelColor": "#000", "labelLimit": 200,
                "symbolSize": 150, "symbolOffset": 10, "labelOffset": 16, "rowPadding": -2,
                "encode": {
                  "legend": {"update": {"strokeWidth": {"value": 1.5}}},
                  "symbols": {"update": {
                    "shape": {"signal": "datum.value === 'Value' ? 'M-2.75,0L2.75,0M-1.35,-0.5L-0.87,0.35L-1.83,0.35Z M1.35,-0.5L1.83,0.35L0.87,0.35Z' : datum.value === 'Momentum' ? 'M-2.75,0L2.75,0M-1.35,-0.4L-1.35,0.4M-1.63,-0.28L-1.07,0.28M-1.63,0.28L-1.07,-0.28M1.35,-0.4L1.35,0.4M1.07,-0.28L1.63,0.28M1.07,0.28L1.63,-0.28' : datum.value === 'CoveredCall' ? 'M-2.75,0L2.75,0M-1.65,-0.3L-1.05,-0.3L-1.05,0.3L-1.65,0.3Z M1.05,-0.3L1.65,-0.3L1.65,0.3L1.05,0.3Z' : datum.value === 'Error' ? 'M-2.75,0L2.75,0M-1.35,-0.45L-1.35,0.45M1.35,-0.45L1.35,0.45' : datum.value === 'Excess Return' ? 'M-2.75,0L2.75,0M-1.8,0A0.45,0.45 0 1,0 -0.9,0A0.45,0.45 0 1,0 -1.8,0Z M0.9,0A0.45,0.45 0 1,0 1.8,0A0.45,0.45 0 1,0 0.9,0Z' : 'M-2.75,0L2.75,0'"},
                    "fill": {"signal": "datum.value === 'Excess Return' ? '#000' : '#fff'"},
                    "fillOpacity": {"value": 1},
                    "opacity": {"value": 1},
                    "stroke": {"signal": "datum.value === 'Alpha' ? '#a0a0a0' : datum.value === 'Market' ? '#555' : datum.value === 'CoveredCall' ? '#777' : '#222'"},
                    "strokeDash": {"signal": "datum.value === 'Market' ? [5,3] : [1,0]"},
                    "strokeWidth": {"signal": "datum.value === 'Alpha' ? 2 : 1.1"}
                  }}
                }
              }},
            "strokeDash": {"field": "s", "type": "nominal", "legend": null, "scale": {"domain": ["Alpha","Market","Size","Value","Momentum","CoveredCall","Error","Excess Return"], "range": [[1,0],[6,4],[1,0],[1,0],[1,0],[1,0],[1,0],[1,0]]}},
            "strokeWidth": {"field": "s", "type": "nominal", "legend": null, "scale": {"domain": ["Alpha","Market","Size","Value","Momentum","CoveredCall","Error","Excess Return"], "range": [2,1.2,1,1.1,1.1,1.5,1,1.4]}}
          }
        },
        {
          "transform": [{"filter": "datum.s === 'CoveredCall'"}],
          "mark": {"type": "point", "shape": "square", "filled": false, "stroke": "#777", "strokeWidth": 1, "size": 14}
        },
        {
          "transform": [{"filter": "datum.s === 'Momentum'"}],
          "mark": {"type": "point", "shape": "M-1,0L1,0M0,-1L0,1M-0.7,-0.7L0.7,0.7M-0.7,0.7L0.7,-0.7", "filled": false, "stroke": "#222", "strokeWidth": 1, "size": 24}
        },
        {
          "transform": [{"filter": "datum.s === 'Error'"}],
          "mark": {"type": "point", "shape": "M-1,0L1,0M0,-1L0,1", "filled": false, "stroke": "#111", "strokeWidth": 1, "size": 24}
        },
        {
          "transform": [{"filter": "datum.s === 'Value'"}],
          "mark": {"type": "point", "shape": "triangle-up", "filled": true, "fill": "#fff", "stroke": "#444", "strokeWidth": 1, "size": 28}
        },
        {
          "transform": [{"filter": "datum.s === 'Excess Return'"}],
          "mark": {"type": "point", "shape": "circle", "filled": true, "fill": "#000", "stroke": "#000", "strokeWidth": 0.5, "size": 45, "opacity": 1}
        }
      ]
    }
  ]
}
